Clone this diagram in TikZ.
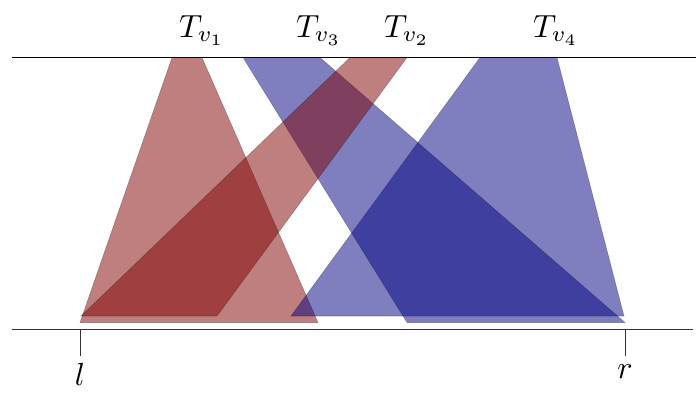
\documentclass[tikz,border=0pt]{standalone}
\usepackage{graphicx}
\definecolor{tred}{RGB}{128,0,0}
\definecolor{tblue}{RGB}{0,0,128}
\newcommand{\biglab}[1]{\scalebox{3.2}{$#1$}}
\begin{document}
\begin{tikzpicture}[x=1pt,y=-1pt,
  redt/.style={fill=tred,fill opacity=0.5,draw=black,draw opacity=0.25,line width=0.6pt},
  bluet/.style={fill=tblue,fill opacity=0.5,draw=black,draw opacity=0.25,line width=0.6pt},
  axis/.style={line width=0.9pt},
  tick/.style={line width=0.8pt,black!80},
  lab/.style={inner sep=0pt}]
\useasboundingbox (0,0) rectangle (696,392);
% top and bottom lines
\coordinate (tl) at (12,57.5);
\coordinate (tr) at (696,57.5);
\coordinate (bl) at (12,329.5);
\coordinate (br) at (693,329.5);
\draw[axis] (tl) -- (tr);
\draw[axis,black!80] (bl) -- (br);
% trapezoids
\draw[redt] (172,57.5) -- (202,57.5) -- (318,322.5) -- (80,322.5) -- cycle;
\draw[bluet] (480,57.5) -- (557,57.5) -- (624,316) -- (291,316) -- cycle;
\draw[bluet] (243,57.5) -- (320,57.5) -- (625,322.5) -- (407,322.5) -- cycle;
\draw[redt] (350,57.5) -- (407,57.5) -- (217,316) -- (81,316) -- cycle;
% labels
\node[lab,anchor=base] (T1) at (202,37) {\biglab{T_{v_1}}};
\node[lab,anchor=base] (T3) at (319,37) {\biglab{T_{v_3}}};
\node[lab,anchor=base] (T2) at (407,37) {\biglab{T_{v_2}}};
\node[lab,anchor=base] (T4) at (556,37) {\biglab{T_{v_4}}};
% ticks
\coordinate (lt) at (80,329.5);
\coordinate (lb) at (80,356);
\coordinate (rt) at (625,329.5);
\coordinate (rb) at (625,356);
\draw[tick] (lt) -- (lb);
\draw[tick] (rt) -- (rb);
\node[lab,anchor=north] (l) at (80,363) {\biglab{l}};
\node[lab,anchor=north] (r) at (625,365) {\biglab{r}};
\end{tikzpicture}
\end{document}
